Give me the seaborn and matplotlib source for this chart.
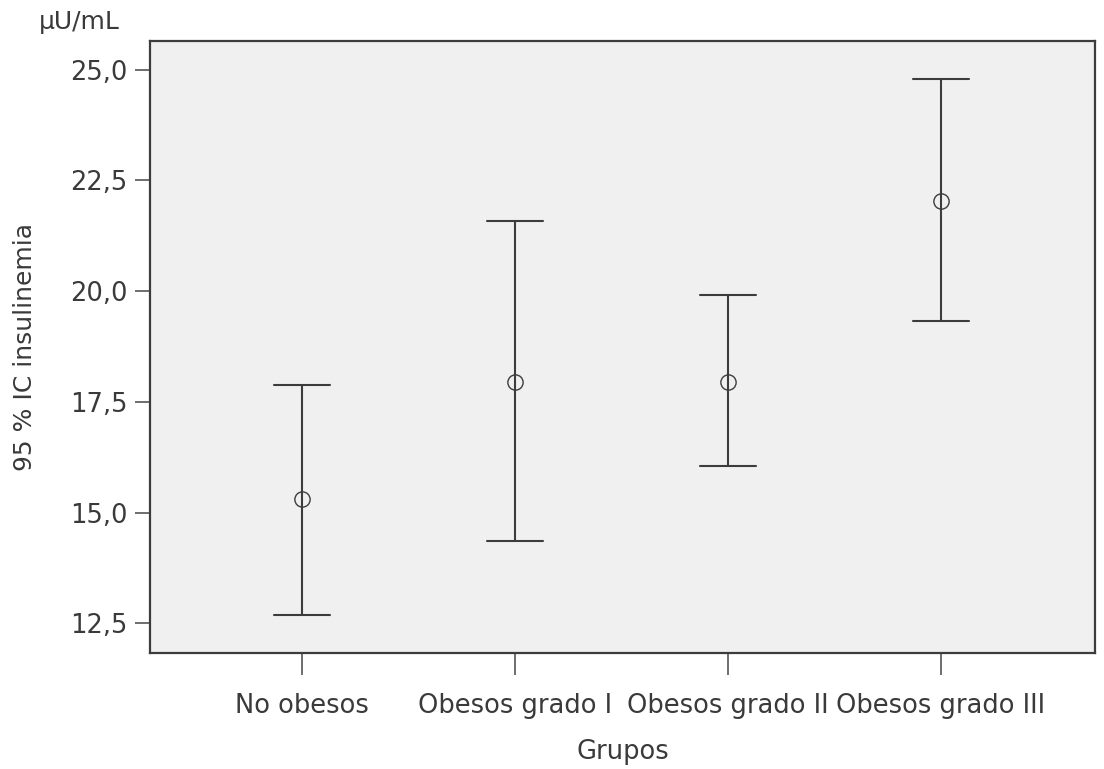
import matplotlib
matplotlib.use("Agg")
import matplotlib.pyplot as plt
from matplotlib.ticker import FixedLocator, FuncFormatter
import numpy as np
import pandas as pd
import seaborn as sns

# Groups and insulin means with their 95 % confidence limits (µU/mL)
grupos = ["No obesos", "Obesos grado I", "Obesos grado II", "Obesos grado III"]
medias = [15.30, 17.95, 17.95, 22.03]
ic_inf = [12.68, 14.37, 16.06, 19.33]
ic_sup = [17.88, 21.58, 19.91, 24.80]
yticks = [12.5, 15.0, 17.5, 20.0, 22.5, 25.0]

# Long table: each group carries its lower limit, mean and upper limit;
# the median gives the mean, min/max give the interval ends.
rows = []
for g, lo, m, hi in zip(grupos, ic_inf, medias, ic_sup):
    for v in (lo, m, hi):
        rows.append({"Grupos": g, "valor": v})
df = pd.DataFrame(rows)

sns.set_theme(style="white")
plt.rcParams["font.family"] = ["DejaVu Sans"]

ink = "#3c3c3c"
txt = "#3a3a3a"
fig = plt.figure(figsize=(11.04, 7.69), dpi=100)
ax = fig.add_axes([150 / 1104, 1 - 653 / 769, (1095 - 150) / 1104, (653 - 41) / 769])
ax.set_facecolor("#f0f0f0")

sns.pointplot(
    data=df, x="Grupos", y="valor", order=grupos,
    estimator="median",
    errorbar=lambda v: (np.min(v), np.max(v)),
    color=ink, markers="o", linestyles="none",
    capsize=0.26, err_kws={"linewidth": 1.5, "color": ink},
    markersize=11, markeredgewidth=1.0,
    ax=ax,
)

# open circle markers
for ln in ax.lines:
    if ln.get_marker() == "o":
        ln.set_markerfacecolor("none")
        ln.set_markeredgecolor(ink)
        ln.set_zorder(5)

ax.set_xlim(-0.714, 3.723)
ax.set_ylim(11.83, 25.65)
ax.yaxis.set_major_locator(FixedLocator(yticks))
ax.yaxis.set_major_formatter(FuncFormatter(lambda v, p: f"{v:.1f}".replace(".", ",")))

for s in ax.spines.values():
    s.set_visible(True)
    s.set_color(ink)
    s.set_linewidth(1.6)

ax.tick_params(axis="y", which="major", left=True, length=11, width=1.2,
               color="#555555", pad=5, labelsize=18.5, labelcolor=txt)
ax.tick_params(axis="x", which="major", bottom=True, length=16, width=1.2,
               color="#555555", pad=13, labelsize=18.5, labelcolor=txt)

ax.set_xlabel("Grupos", fontsize=18.5, color=txt, labelpad=14)
ax.set_ylabel("95 % IC insulinemia", fontsize=18, color=txt, labelpad=24)
fig.text(0.035, 1 - 22 / 769, "µU/mL", fontsize=18, color=txt, va="center", ha="left")

fig.savefig("out.png", dpi=100, facecolor="white")
